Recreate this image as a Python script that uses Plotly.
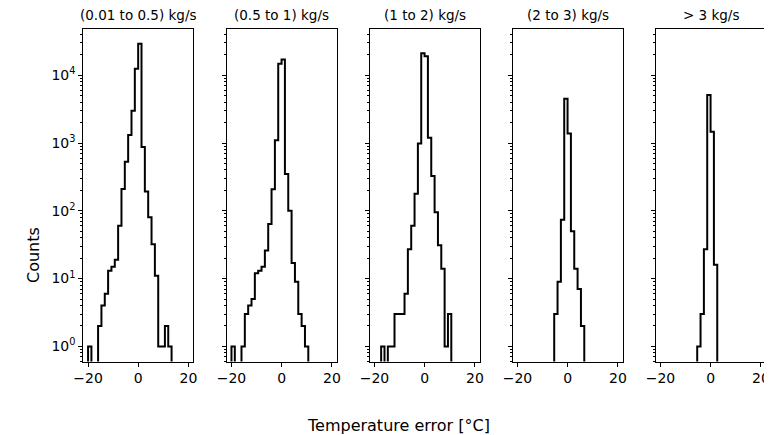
import plotly.graph_objects as go

# shared histogram bin edges [°C]
BIN_EDGES = [-20.0, -18.67, -17.34, -16.01, -14.68, -13.35, -12.02, -10.69, -9.36,
             -8.03, -6.70, -5.37, -4.04, -2.71, -1.38, -0.05, 1.28, 2.61, 3.94,
             5.27, 6.60, 7.93, 9.26, 10.59, 11.92, 13.25]

TITLES = ['(0.01 to 0.5) kg/s', '(0.5 to 1) kg/s', '(1 to 2) kg/s',
          '(2 to 3) kg/s', '> 3 kg/s']

# index of the first bin drawn in each panel
FIRST_BIN = [0, 0, 2, 11, 11]

COUNTS_1 = [1, 0, 0, 2, 4, 6, 13, 15, 19, 60, 209, 530, 1310, 3000, 12500,
            29000, 870, 192, 80, 32, 11, 1, 1, 2, 1]
COUNTS_2 = [1, 0, 0, 1, 3, 4, 5, 12, 13, 15, 26, 64, 208, 1100, 14800,
            17000, 350, 100, 17, 9, 3, 2, 1]
COUNTS_3 = [1, 0, 1, 1, 3, 3, 3, 6, 27, 60, 178, 980, 21000, 19000, 1200,
            325, 95, 31, 14, 1, 3]
COUNTS_4 = [3, 9, 74, 4500, 1380, 50, 14, 7, 2]
COUNTS_5 = [1, 3, 27, 5100, 1470, 16]
ALL_COUNTS = [COUNTS_1, COUNTS_2, COUNTS_3, COUNTS_4, COUNTS_5]

Y_TICKS = [1, 10, 100, 1000, 10000]
Y_TICKTEXT = ['10<sup>0</sup>', '10<sup>1</sup>', '10<sup>2</sup>',
              '10<sup>3</sup>', '10<sup>4</sup>']
X_TICKS = [-20, 0, 20]
X_TICKTEXT = ['\u221220', '0', '20']

# page body has an 8px margin, so the figure is drawn 8px smaller and shifted
OFF = 8
W, H = 772 - OFF, 435 - OFF
FONT = 'DejaVu Sans'
FLOOR = 1e-3  # below the axis, so empty bins drop out of view
minor_vals = [m * 10 ** e for e in range(-1, 5) for m in range(2, 10)]

panel_left = [83.3, 226.7, 369.7, 512.7, 655.7]
panel_w = 110
y_top, y_bot = 28.7, 361.5


def px(x):
    return (x - OFF) / W


def py(y):
    return 1 - (y - OFF) / H


fig = go.Figure()

for i, counts in enumerate(ALL_COUNTS):
    k0 = FIRST_BIN[i]
    xs = [BIN_EDGES[k0]]
    ys = [FLOOR]
    for j, c in enumerate(counts):
        v = c if c > 0 else FLOOR
        xs += [BIN_EDGES[k0 + j], BIN_EDGES[k0 + j + 1]]
        ys += [v, v]
    xs.append(BIN_EDGES[k0 + len(counts)])
    ys.append(FLOOR)

    n = '' if i == 0 else str(i + 1)
    fig.add_trace(go.Scatter(x=xs, y=ys, mode='lines',
                             line=dict(color='black', width=2),
                             xaxis='x' + n, yaxis='y' + n,
                             showlegend=False, hoverinfo='skip'))

    x0 = px(panel_left[i])
    x1 = px(panel_left[i] + panel_w)
    axis_common = dict(showline=True, mirror=True, linecolor='black', linewidth=1,
                       ticks='outside', ticklen=4, tickwidth=1, tickcolor='black',
                       showgrid=False, zeroline=False, automargin=False,
                       tickfont=dict(family=FONT, size=14, color='black'))
    fig.update_layout(**{
        'xaxis' + n: dict(domain=[x0, x1], range=[-21.9, 21.9], anchor='y' + n,
                          tickvals=X_TICKS, ticktext=X_TICKTEXT, **axis_common),
        'yaxis' + n: dict(domain=[py(y_bot), py(y_top)], type='log',
                          range=[-0.223, 4.686], anchor='x' + n,
                          tickvals=Y_TICKS, ticktext=Y_TICKTEXT,
                          showticklabels=(i == 0),
                          minor=dict(tickvals=minor_vals, ticks='outside',
                                     ticklen=2, tickwidth=0.8, tickcolor='black',
                                     showgrid=False),
                          **axis_common),
    })
    fig.add_annotation(text=TITLES[i], x=(x0 + x1) / 2, y=py(15),
                       xref='paper', yref='paper', showarrow=False,
                       xanchor='center', yanchor='middle',
                       font=dict(family=FONT, size=13.5, color='black'))

fig.add_annotation(text='Temperature error [°C]', x=px(398), y=py(425),
                   xref='paper', yref='paper', showarrow=False,
                   xanchor='center', yanchor='middle',
                   font=dict(family=FONT, size=16, color='black'))
fig.add_annotation(text='Counts', x=px(33), y=py(255), textangle=-90,
                   xref='paper', yref='paper', showarrow=False,
                   xanchor='center', yanchor='middle',
                   font=dict(family=FONT, size=16, color='black'))

fig.update_layout(width=W, height=H, margin=dict(l=0, r=0, t=0, b=0),
                  paper_bgcolor='white', plot_bgcolor='white',
                  font=dict(family=FONT, color='black'))

fig.write_html("out.html")
